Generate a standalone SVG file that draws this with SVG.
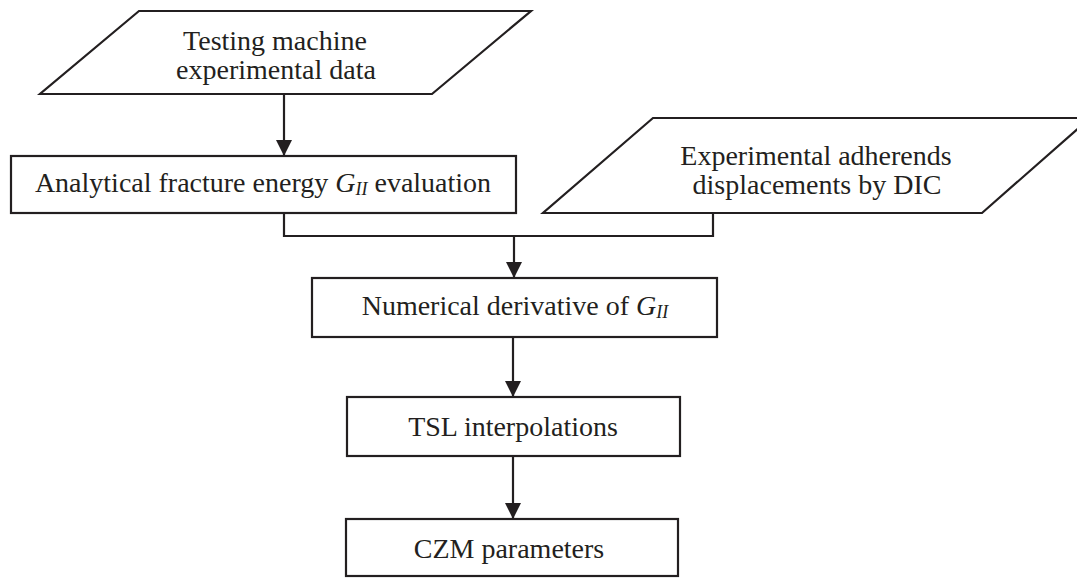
<svg xmlns="http://www.w3.org/2000/svg" width="1077" height="578" viewBox="0 0 1077 578">
<style>
.shape{fill:#fff;stroke:#231f20;stroke-width:2.2}
.conn{fill:none;stroke:#231f20;stroke-width:2.2}
.t{font-family:"Liberation Serif","Times New Roman",serif;font-size:28px;fill:#231f20;text-anchor:middle}
.i{font-style:italic}
</style>
<defs>
<marker id="ah" markerUnits="userSpaceOnUse" markerWidth="16" markerHeight="16" viewBox="0 0 16 16" refX="15" refY="8" orient="auto">
<path d="M0,0 L16,8 L0,16 Z" fill="#231f20"/>
</marker>
</defs>
<rect width="1077" height="578" fill="#fff"/>
<g id="n1">
<polygon class="shape" points="139,11 531,11 432,94 40,94"/>
<text class="t" x="275" y="50">Testing machine</text>
<text class="t" x="276" y="79">experimental data</text>
</g>
<g id="n2">
<rect class="shape" x="11" y="156" width="505" height="57"/>
<text class="t" x="263" y="192">Analytical fracture energy <tspan class="i">G</tspan><tspan class="i" font-size="18" dy="3">II</tspan><tspan dy="-3"> evaluation</tspan></text>
</g>
<g id="n3">
<polygon class="shape" points="653,118 1090,118 982,213 543,213"/>
<text class="t" x="816" y="165">Experimental adherends</text>
<text class="t" x="817" y="194">displacements by DIC</text>
</g>
<g id="n4">
<rect class="shape" x="312" y="278" width="405" height="59"/>
<text class="t" x="515" y="315">Numerical derivative of <tspan class="i">G</tspan><tspan class="i" font-size="18" dy="3">II</tspan></text>
</g>
<g id="n5">
<rect class="shape" x="347" y="397" width="333" height="59"/>
<text class="t" x="513" y="436">TSL interpolations</text>
</g>
<g id="n6">
<rect class="shape" x="346" y="519" width="332" height="57"/>
<text class="t" x="509" y="558">CZM parameters</text>
</g>
<g id="connectors">
<line class="conn" x1="284" y1="94" x2="284" y2="155" marker-end="url(#ah)"/>
<polyline class="conn" points="284,213 284,236 713,236 713,213"/>
<line class="conn" x1="514" y1="236" x2="514" y2="277" marker-end="url(#ah)"/>
<line class="conn" x1="513" y1="337" x2="513" y2="396" marker-end="url(#ah)"/>
<line class="conn" x1="513" y1="456" x2="513" y2="518" marker-end="url(#ah)"/>
</g>
</svg>
